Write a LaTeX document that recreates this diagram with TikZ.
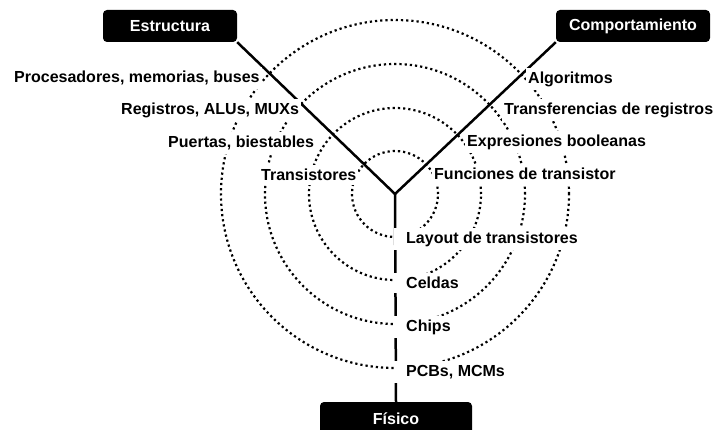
\documentclass[tikz,border=0pt]{standalone}
\usepackage{fontspec}
\setmainfont{Liberation Sans}
\usetikzlibrary{arrows,shapes,calc,positioning}

\begin{document}
\begin{tikzpicture}[x=1pt,y=-1pt]
	\tikzstyle{every node}=[font=\fontsize{16}{19}\selectfont\bfseries]
	\tikzstyle{axisbox}=[fill=black, text=white, rounded corners=4pt, inner sep=0pt]
	\tikzstyle{level}=[fill=white, inner xsep=2pt, inner ysep=4pt, anchor=west]
	\tikzstyle{phys}=[level, inner xsep=12pt]
	\tikzstyle{ring}=[line width=2.2pt, dash pattern=on 2.2pt off 3pt]
	\tikzstyle{arm}=[line width=2.5pt]
	\useasboundingbox (0,0) rectangle (715,430);
	\coordinate (c) at (395,194);
	% the three domains
	\node[axisbox, minimum width=134pt, minimum height=32pt] (estr) at (170,26) {Estructura};
	\node[axisbox, minimum width=154pt, minimum height=32pt] (comp) at (633,26) {Comportamiento};
	\node[axisbox, minimum width=152pt, minimum height=34pt] (fis) at (396,419) {Físico};
	% abstraction levels
	\foreach \r in {43,86,130,174}
		\draw[ring] (c) circle (\r pt);
	\draw[arm] (c) -- (estr.south east);
	\draw[arm] (c) -- (comp.south west);
	\draw[arm] (c) -- (fis.north);
	% structural
	\node[level] (s1) at (12,78) {Procesadores, memorias, buses};
	\node[level] (s2) at (119,110) {Registros, ALUs, MUXs};
	\node[level] (s3) at (166,143) {Puertas, biestables};
	\node[level] (s4) at (259,175) {Transistores};
	% behavioural
	\node[level] (b1) at (526,79) {Algoritmos};
	\node[level] (b2) at (502,110) {Transferencias de registros};
	\node[level] (b3) at (465,142) {Expresiones booleanas};
	\node[level] (b4) at (432,174) {Funciones de transistor};
	% physical
	\node[phys] (p1) at (394,239) {Layout de transistores};
	\node[phys] (p2) at (394,283) {Celdas};
	\node[phys] (p3) at (394,327) {Chips};
	\node[phys] (p4) at (394,372) {PCBs, MCMs};
\end{tikzpicture}
\end{document}
